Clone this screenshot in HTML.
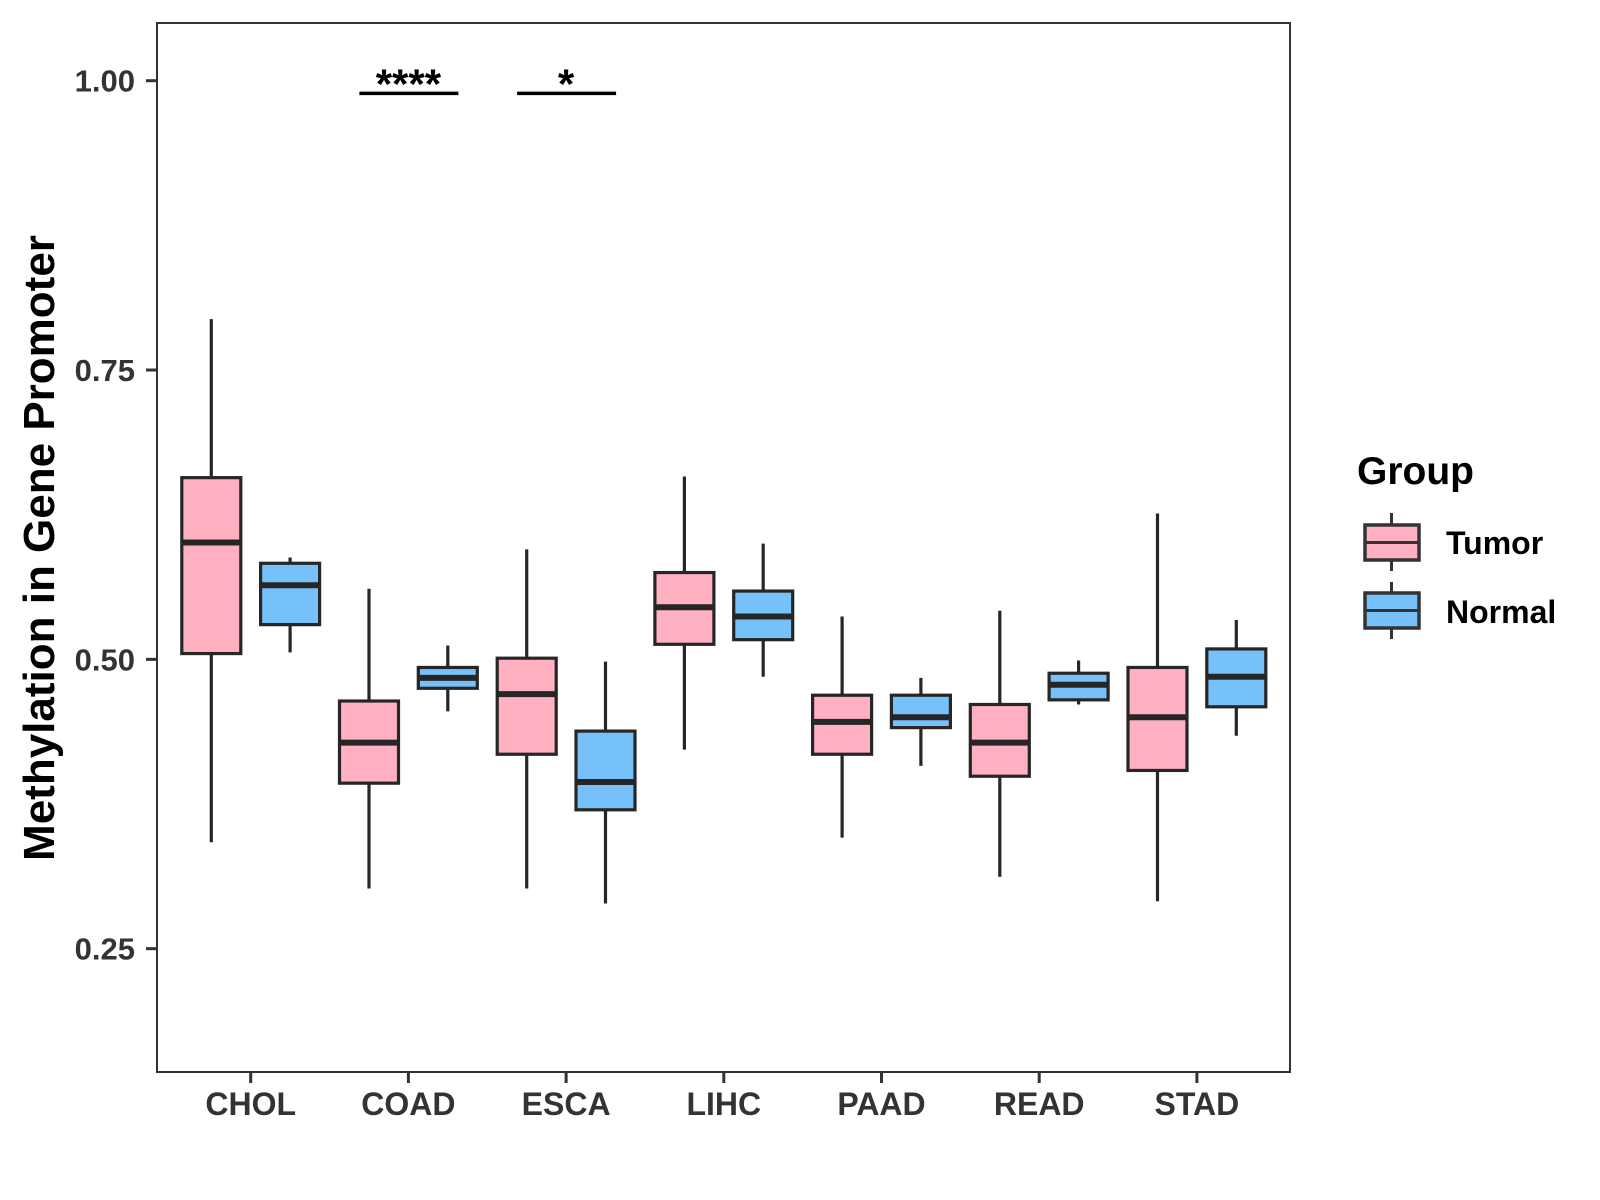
<!DOCTYPE html>
<html><head><meta charset="utf-8"><style>
html,body{margin:0;padding:0;background:#fff;}
svg{display:block;font-family:"Liberation Sans",Arial,sans-serif;font-weight:bold;}
</style></head><body>
<svg id="chart" width="1600" height="1200" viewBox="0 0 1600 1200" xmlns="http://www.w3.org/2000/svg">
<rect x="157" y="23" width="1133" height="1049" fill="#fff" stroke="#333" stroke-width="2"/>
<g id="marks"></g>
<g id="axes"></g>
<text transform="translate(54,548) rotate(-90)" text-anchor="middle" font-size="44" fill="#000">Methylation in Gene Promoter</text>
<g>
<text x="1357" y="484" font-size="39" fill="#000">Group</text>
<g>
<line x1="1391.5" y1="513" x2="1391.5" y2="571" stroke="#333" stroke-width="3"/>
<rect x="1365" y="525" width="54" height="35" fill="#ffb0c1" stroke="#333" stroke-width="3.5"/>
<line x1="1365" y1="542.5" x2="1419" y2="542.5" stroke="#333" stroke-width="3"/>
<text x="1446" y="554" font-size="32" fill="#000">Tumor</text>
</g>
<g>
<line x1="1391.5" y1="582" x2="1391.5" y2="639" stroke="#333" stroke-width="3"/>
<rect x="1365" y="593" width="54" height="35" fill="#77c1fa" stroke="#333" stroke-width="3.5"/>
<line x1="1365" y1="610.5" x2="1419" y2="610.5" stroke="#333" stroke-width="3"/>
<text x="1446" y="623" font-size="32" fill="#000">Normal</text>
</g>
</g>
</svg>
<script>
const categories = ["CHOL","COAD","ESCA","LIHC","PAAD","READ","STAD"];
// [low whisker, q1, median, q3, high whisker]
const tumorStats = [
  [0.342,0.505,0.601,0.657,0.794],
  [0.302,0.393,0.428,0.464,0.561],
  [0.302,0.418,0.470,0.501,0.595],
  [0.422,0.513,0.545,0.575,0.658],
  [0.346,0.418,0.446,0.469,0.537],
  [0.312,0.399,0.428,0.461,0.542],
  [0.291,0.404,0.450,0.493,0.626]
];
const normalStats = [
  [0.506,0.530,0.564,0.583,0.588],
  [0.455,0.475,0.484,0.493,0.512],
  [0.289,0.370,0.394,0.438,0.498],
  [0.485,0.517,0.537,0.559,0.600],
  [0.408,0.441,0.450,0.469,0.484],
  [0.461,0.465,0.478,0.488,0.499],
  [0.434,0.459,0.485,0.509,0.534]
];
const yTicks = [0.25,0.50,0.75,1.00];
const yTickLabels = ["0.25","0.50","0.75","1.00"];
const sigCategories = ["COAD","ESCA"];
const sigLabels = ["****","*"];
const sigLevel = 0.989;

const NS="http://www.w3.org/2000/svg";
function yScale(v){return 80.7+(1-v)*1157.3;}
function xScale(i){return 250.7+157.7*i;}
const marks=document.getElementById('marks');
const axes=document.getElementById('axes');
function mk(tag,attrs,parent){const e=document.createElementNS(NS,tag);for(const k in attrs)e.setAttribute(k,attrs[k]);parent.appendChild(e);return e;}

function drawBox(s,cx,fill,name){
  const g=mk('g',{},marks);
  
  
  const w=59;
  mk('line',{x1:cx,x2:cx,y1:yScale(s[4]),y2:yScale(s[0]),stroke:'#262626','stroke-width':3.2},g);
  mk('rect',{x:cx-w/2,y:yScale(s[3]),width:w,height:yScale(s[1])-yScale(s[3]),fill:fill,stroke:'#262626','stroke-width':3.2},g);
  mk('line',{x1:cx-w/2,x2:cx+w/2,y1:yScale(s[2]),y2:yScale(s[2]),stroke:'#262626','stroke-width':6},g);
}
categories.forEach((c,i)=>{
  drawBox(tumorStats[i],xScale(i)-39.4,'#ffb0c1','box-tumor-'+c.toLowerCase());
  drawBox(normalStats[i],xScale(i)+39.4,'#77c1fa','box-normal-'+c.toLowerCase());
  const t=mk('line',{x1:xScale(i),x2:xScale(i),y1:1072,y2:1083,stroke:'#333','stroke-width':3},axes);
  
  
  const l=mk('text',{x:xScale(i),y:1115,'text-anchor':'middle','font-size':32,fill:'#333'},axes);
  
  
  l.textContent=c;
});
yTicks.forEach((v,i)=>{
  const t=mk('line',{x1:146,x2:157,y1:yScale(v),y2:yScale(v),stroke:'#333','stroke-width':3},axes);
  
  
  const l=mk('text',{x:135,y:yScale(v)+11,'text-anchor':'end','font-size':31,fill:'#333'},axes);
  
  
  l.textContent=yTickLabels[i];
});
sigCategories.forEach((c,k)=>{
  const i=categories.indexOf(c);
  const y=yScale(sigLevel);
  const ln=mk('line',{x1:xScale(i)-49,x2:xScale(i)+50,y1:y,y2:y,stroke:'#000','stroke-width':3.5},marks);
  
  
  const tx=mk('text',{x:xScale(i),y:y+5,'text-anchor':'middle','font-size':42,fill:'#000'},marks);
  
  
  tx.textContent=sigLabels[k];
});
</script>
</body></html>
